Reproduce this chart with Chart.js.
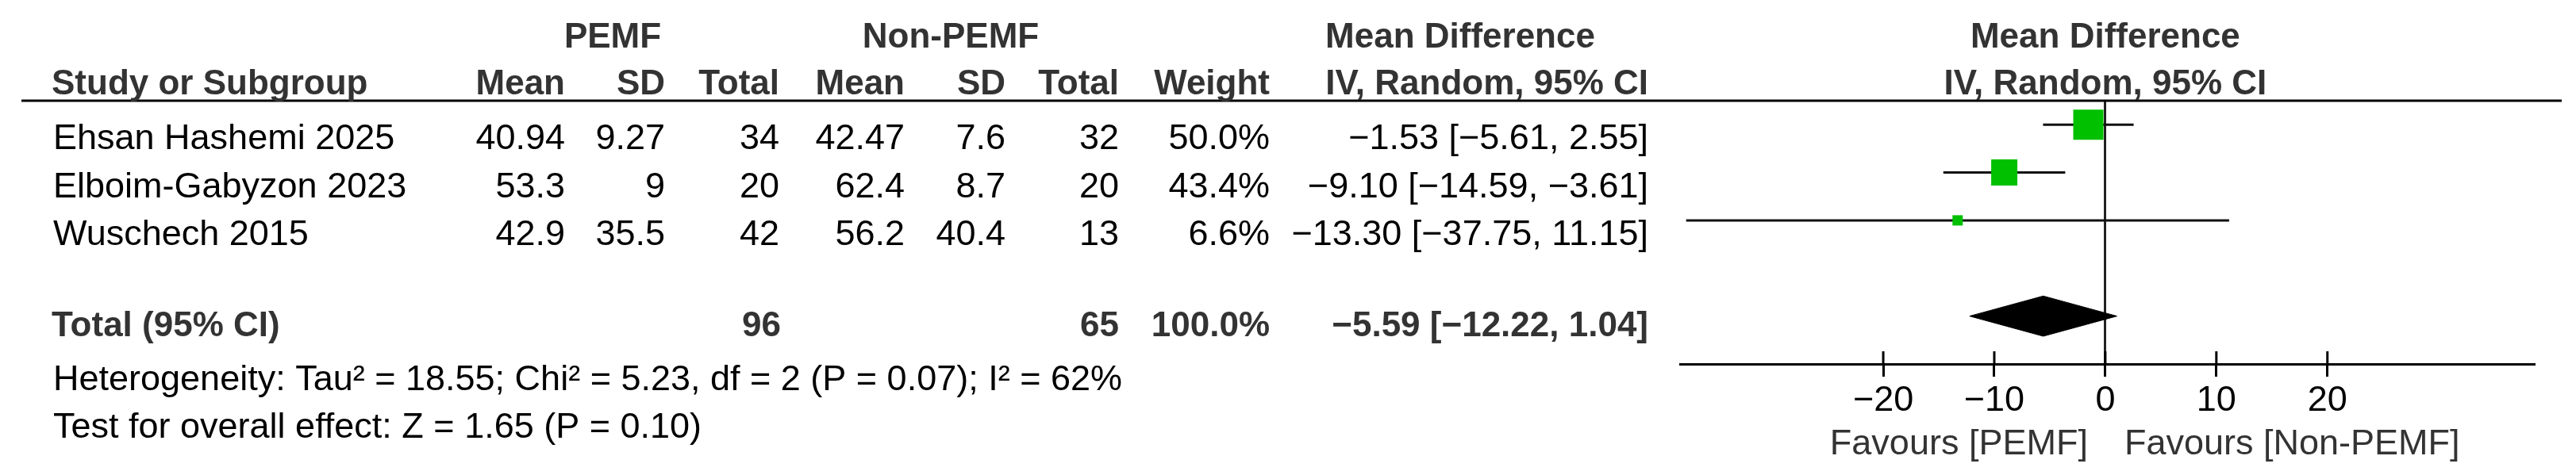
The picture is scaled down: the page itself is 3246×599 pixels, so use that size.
<!DOCTYPE html>
<html>
<head>
<meta charset="utf-8">
<script src="https://cdn.jsdelivr.net/npm/chart.js@4.4.1/dist/chart.umd.min.js"></script>
<style>
  html, body { margin: 0; padding: 0; background: #fff; }
  canvas { display: block; }
</style>
</head>
<body>
<canvas id="forest" width="3246" height="599"></canvas>
<script>
// study data
const studies = ["Ehsan Hashemi 2025", "Elboim-Gabyzon 2023", "Wuschech 2015"];
const pemfMean = [40.94, 53.3, 42.9];
const pemfSD = [9.27, 9, 35.5];
const pemfTotal = [34, 20, 42];
const ctrlMean = [42.47, 62.4, 56.2];
const ctrlSD = [7.6, 8.7, 40.4];
const ctrlTotal = [32, 20, 13];
const weights = [50.0, 43.4, 6.6];
const meanDiff = [-1.53, -9.10, -13.30];
const ciLow = [-5.61, -14.59, -37.75];
const ciHigh = [2.55, -3.61, 11.15];

// pooled result
const pooled = [-5.59, -12.22, 1.04]; // md, low, high
const pooledTotals = [96, 65];
const pooledWeight = 100.0;
const heterogeneityText = "Heterogeneity: Tau\u00b2 = 18.55; Chi\u00b2 = 5.23, df = 2 (P = 0.07); I\u00b2 = 62%";
const overallText = "Test for overall effect: Z = 1.65 (P = 0.10)";

const xTicks = [-20, -10, 0, 10, 20];
const favourLabels = ["Favours [PEMF]", "Favours [Non-PEMF]"];

const TOTAL_ROW = 4;
const FONT = '"Liberation Sans", Arial, sans-serif';
const GREEN = "rgb(0,192,0)";

const minus = s => String(s).replace(/-/g, "\u2212");
const fmtCI = (m, lo, hi) => minus(m.toFixed(2) + " [" + lo.toFixed(2) + ", " + hi.toFixed(2) + "]");

// datasets
const squares = {
  data: meanDiff.map((m, i) => ({ x: m, y: i })),
  pointStyle: "rect",
  backgroundColor: GREEN,
  pointBorderWidth: 0,
  pointRadius: ctx => Math.max(13, weights[ctx.dataIndex] * 0.76) / Math.SQRT2,
  showLine: false,
  order: 0
};
const ciLines = studies.map((s, i) => ({
  data: [{ x: ciLow[i], y: i }, { x: ciHigh[i], y: i }],
  showLine: true,
  borderColor: "#111",
  borderWidth: 3,
  pointRadius: 0,
  order: 1
}));
const dh = 0.42;
const diamond = {
  data: [
    { x: pooled[1], y: TOTAL_ROW },
    { x: pooled[0], y: TOTAL_ROW - dh },
    { x: pooled[2], y: TOTAL_ROW },
    { x: pooled[0], y: TOTAL_ROW + dh },
    { x: pooled[1], y: TOTAL_ROW }
  ],
  showLine: true,
  fill: "shape",
  backgroundColor: "#000",
  borderColor: "#000",
  borderWidth: 1,
  pointRadius: 0,
  order: 2
};

const tablePlugin = {
  id: "table",
  afterDraw(chart) {
    const ctx = chart.ctx;
    const xs = chart.scales.x, ys = chart.scales.y, area = chart.chartArea;
    const txt = (s, x, y, align, bold, color) => {
      ctx.font = (bold ? "bold 44px " : "45px ") + FONT;
      ctx.textAlign = align;
      ctx.textBaseline = "alphabetic";
      ctx.fillStyle = color || (bold ? "#333" : "#000");
      ctx.fillText(s, x, y);
    };
    ctx.save();

    // header line
    ctx.fillStyle = "#000";
    ctx.fillRect(27, area.top - 1.5, 3228 - 27, 3);

    // upper half of tick marks
    ctx.strokeStyle = "#000";
    ctx.lineWidth = 3;
    xTicks.forEach(v => {
      const px = xs.getPixelForValue(v);
      ctx.beginPath();
      ctx.moveTo(px, area.bottom - 16);
      ctx.lineTo(px, area.bottom);
      ctx.stroke();
    });

    const zero = xs.getPixelForValue(0);

    // headers
    txt("PEMF", 772, 60, "center", true);
    txt("Non-PEMF", 1198, 60, "center", true);
    txt("Mean Difference", 1840, 60, "center", true);
    txt("Mean Difference", zero, 60, "center", true);
    txt("Study or Subgroup", 65, 119, "left", true);
    txt("Mean", 712, 119, "right", true);
    txt("SD", 838, 119, "right", true);
    txt("Total", 982, 119, "right", true);
    txt("Mean", 1140, 119, "right", true);
    txt("SD", 1267, 119, "right", true);
    txt("Total", 1410, 119, "right", true);
    txt("Weight", 1600, 119, "right", true);
    txt("IV, Random, 95% CI", 2077, 119, "right", true);
    txt("IV, Random, 95% CI", zero, 119, "center", true);

    // study rows
    studies.forEach((s, i) => {
      const y = ys.getPixelForValue(i) + 31;
      txt(s, 67, y, "left");
      txt(String(pemfMean[i]), 712, y, "right");
      txt(String(pemfSD[i]), 838, y, "right");
      txt(String(pemfTotal[i]), 982, y, "right");
      txt(String(ctrlMean[i]), 1140, y, "right");
      txt(String(ctrlSD[i]), 1267, y, "right");
      txt(String(ctrlTotal[i]), 1410, y, "right");
      txt(weights[i].toFixed(1) + "%", 1600, y, "right");
      txt(fmtCI(meanDiff[i], ciLow[i], ciHigh[i]), 2077, y, "right");
    });

    // total row
    const ty = ys.getPixelForValue(TOTAL_ROW) + 25;
    txt("Total (95% CI)", 65, ty, "left", true);
    txt(String(pooledTotals[0]), 984, ty, "right", true);
    txt(String(pooledTotals[1]), 1410, ty, "right", true);
    txt(pooledWeight.toFixed(1) + "%", 1600, ty, "right", true);
    txt(fmtCI(pooled[0], pooled[1], pooled[2]), 2077, ty, "right", true);
    txt(heterogeneityText, 67, 492, "left");
    txt(overallText, 67, 552, "left");

    // favours labels
    txt(favourLabels[0], zero - 22, 573, "right", false, "#333");
    txt(favourLabels[1], zero + 24, 573, "left", false, "#333");
    ctx.restore();
  }
};

new Chart(document.getElementById("forest").getContext("2d"), {
  type: "scatter",
  data: { datasets: [squares, ...ciLines, diamond] },
  options: {
    responsive: false,
    animation: false,
    layout: { padding: { left: 2117, right: 53, top: 127, bottom: 0 } },
    plugins: { legend: { display: false }, tooltip: { enabled: false } },
    scales: {
      x: {
        type: "linear",
        min: -38.3,
        max: 38.6,
        afterBuildTicks: s => { s.ticks = xTicks.map(v => ({ value: v })); },
        afterFit: s => { s.height = 140; },
        border: { display: true, color: "#000", width: 3 },
        grid: {
          drawOnChartArea: true,
          color: c => (c.tick && c.tick.value === 0 ? "#222" : "rgba(0,0,0,0)"),
          lineWidth: 3,
          tickColor: "#000",
          tickWidth: 3,
          tickLength: 16
        },
        ticks: {
          autoSkip: false,
          maxRotation: 0,
          padding: 4,
          color: "#000",
          font: { family: FONT, size: 45 },
          callback: v => minus(v)
        }
      },
      y: {
        type: "linear",
        reverse: true,
        min: -0.5,
        max: 5.0,
        display: false
      }
    }
  },
  plugins: [tablePlugin]
});
</script>
</body>
</html>
